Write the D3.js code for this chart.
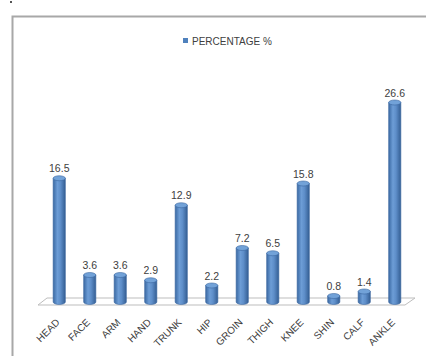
<!DOCTYPE html>
<html><head><meta charset="utf-8">
<script src="https://cdn.jsdelivr.net/npm/d3@7"></script>
<style>body{margin:0;background:#fff}svg{display:block}</style>
</head><body>
<script>
const categories = ["HEAD","FACE","ARM","HAND","TRUNK","HIP","GROIN","THIGH","KNEE","SHIN","CALF","ANKLE"];
const percentage = [16.5,3.6,3.6,2.9,12.9,2.2,7.2,6.5,15.8,0.8,1.4,26.6];
const seriesName = "PERCENTAGE %";

const W = 426, H = 356;
const svg = d3.select("body").append("svg").attr("width", W).attr("height", H);
const defs = svg.append("defs");
const g1 = defs.append("linearGradient").attr("id","cyl").attr("x1","0").attr("x2","1").attr("y1","0").attr("y2","0");
g1.append("stop").attr("offset","0").attr("stop-color","#3a69a3");
g1.append("stop").attr("offset","0.35").attr("stop-color","#6d9dd6");
g1.append("stop").attr("offset","0.6").attr("stop-color","#5e8ec9");
g1.append("stop").attr("offset","1").attr("stop-color","#345e93");

// frame
svg.append("path").attr("d","M12.5,356 V16.5 H426").attr("fill","none").attr("stroke","#a8a8a8").attr("stroke-width",2);
svg.append("rect").attr("x",10).attr("y",1).attr("width",2).attr("height",2).attr("fill","#555");

const x = d3.scaleBand().domain(categories).range([44, 410]).paddingInner(0.6).paddingOuter(0.3);
const y = d3.scaleLinear().domain([0, 30]).range([302, 77]);

// floor
const x0 = x.range()[0], x1 = x.range()[1];
const yb = y(0);
svg.append("path")
  .attr("d", `M${x0-6},${yb+3} L${x1-5},${yb+3} L${x1+5},${yb-4} L${x0+3},${yb-4} Z`)
  .attr("fill","#fff").attr("stroke","#bdbdbd").attr("stroke-width",1);

const bw = x.bandwidth(), ry = 2.5;
const bars = svg.append("g").selectAll("g").data(categories).join("g");
bars.append("path")
  .attr("d", (c,i) => {
    const l = x(c), r = l + bw, t = y(percentage[i]), b = y(0);
    return `M${l},${t} L${l},${b} A${bw/2},${ry} 0 0 0 ${r},${b} L${r},${t} Z`;
  })
  .attr("fill","url(#cyl)").attr("stroke","#3a679f").attr("stroke-width",0.6);
bars.append("ellipse")
  .attr("cx", c => x(c) + bw/2).attr("cy", (c,i) => y(percentage[i]))
  .attr("rx", bw/2).attr("ry", ry)
  .attr("fill","#72a2d8").attr("stroke","#3a679f").attr("stroke-width",0.6);

// value labels
svg.append("g").selectAll("text").data(categories).join("text")
  .attr("x", c => x(c) + bw/2)
  .attr("y", (c,i) => y(percentage[i]) - 6)
  .attr("text-anchor","middle")
  .attr("font-family","Liberation Sans, Arial, sans-serif")
  .attr("font-size", 10.5).attr("fill","#404040")
  .text((c,i) => percentage[i].toFixed(1));

// category labels
svg.append("g").selectAll("text").data(categories).join("text")
  .attr("transform", c => `translate(${x(c) + bw/2 + 1},${yb + 21}) rotate(-45)`)
  .attr("text-anchor","end")
  .attr("font-family","Liberation Sans, Arial, sans-serif")
  .attr("font-size", 10).attr("fill","#404040")
  .text(c => c);

// legend
const lg = svg.append("g");
lg.append("rect").attr("x",183).attr("y",38).attr("width",5).attr("height",5).attr("fill","#4f81bd");
lg.append("text").attr("x",192).attr("y",44.5)
  .attr("font-family","Liberation Sans, Arial, sans-serif")
  .attr("font-size",10).attr("fill","#404040").text(seriesName);
</script>
</body></html>
